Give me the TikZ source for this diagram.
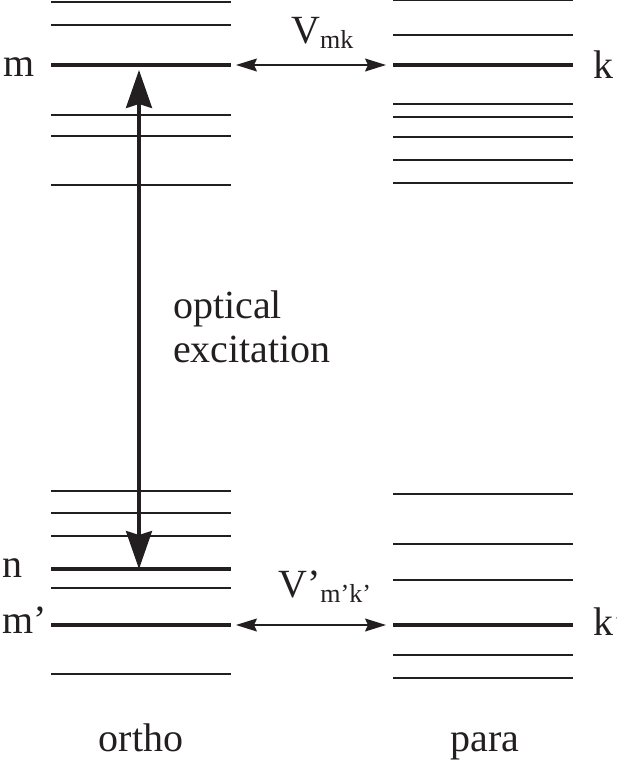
\documentclass[tikz,border=0pt]{standalone}
\usepackage{fontspec}
\setmainfont{Liberation Serif}
\usetikzlibrary{arrows.meta}

\definecolor{ink}{HTML}{231F20}
\newcommand{\lowsub}[1]{\raisebox{-5pt}{\fontsize{26}{26}\selectfont #1}}

\begin{document}
\begin{tikzpicture}[
        x=1pt, y=-1pt,
        level/.style={draw=ink, line width=1.8pt},
        mainlevel/.style={draw=ink, line width=3.8pt},
        coupling/.style={{Stealth[length=21pt, width=13pt, inset=3pt]}-{Stealth[length=21pt, width=13pt, inset=3pt]}, draw=ink, line width=1.3pt},
        excitation/.style={{Stealth[length=38pt, width=26pt, inset=4pt]}-{Stealth[length=38pt, width=26pt, inset=4pt]}, draw=ink, line width=3.2pt},
        label/.style={inner sep=0pt, text=ink, font=\fontsize{40}{44}\selectfont}
    ]
        \useasboundingbox (0,0) rectangle (617,763);

        % Ortho levels
        \draw[level] (51,2) -- (231,2);
        \draw[level] (51,25) -- (231,25);
        \draw[level] (51,115) -- (231,115);
        \draw[level] (51,136) -- (231,136);
        \draw[level] (51,185) -- (231,185);
        \draw[level] (51,491) -- (231,491);
        \draw[level] (51,513) -- (231,513);
        \draw[level] (51,536) -- (231,536);
        \draw[level] (51,588) -- (231,588);
        \draw[level] (51,674) -- (231,674);
        \draw[mainlevel] (51,65) -- (231,65);
        \draw[mainlevel] (51,569) -- (231,569);
        \draw[mainlevel] (51,625) -- (231,625);

        % Para levels
        \draw[level] (393,0) -- (573,0);
        \draw[level] (393,35) -- (573,35);
        \draw[level] (393,104) -- (573,104);
        \draw[level] (393,117) -- (573,117);
        \draw[level] (393,137) -- (573,137);
        \draw[level] (393,160) -- (573,160);
        \draw[level] (393,183) -- (573,183);
        \draw[level] (393,494) -- (573,494);
        \draw[level] (393,544) -- (573,544);
        \draw[level] (393,580) -- (573,580);
        \draw[level] (393,655) -- (573,655);
        \draw[level] (393,678) -- (573,678);
        \draw[mainlevel] (393,65) -- (573,65);
        \draw[mainlevel] (393,625) -- (573,625);

        % Level ends
        \coordinate (mR) at (231,65);
        \coordinate (kL) at (393,65);
        \coordinate (mpR) at (231,625);
        \coordinate (kpL) at (393,625);
        \coordinate (mup) at (139,65);
        \coordinate (ndown) at (139,569);

        % Couplings
        \draw[coupling, shorten <=5pt, shorten >=7pt] (mR) -- (kL);
        \draw[coupling, shorten <=5pt, shorten >=7pt] (mpR) -- (kpL);
        \draw[excitation, shorten <=5pt] (mup) -- (ndown);

        % Level labels
        \node[label, anchor=base west] (lblm) at (3,76) {m};
        \node[label, anchor=base west] (lblk) at (593,78) {k};
        \node[label, anchor=base west] (lbln) at (2,577) {n};
        \node[label, anchor=base west] (lblmp) at (2,633) {m’};
        \node[label, anchor=base west] (lblkp) at (593,635) {k’};

        % Coupling labels
        \node[label, anchor=base west] (vmk) at (291,43) {V\lowsub{mk}};
        \node[label, anchor=base west] (vmpkp) at (278,597) {V’\lowsub{m’k’}};

        % Excitation label
        \node[label, anchor=base west, align=left] (opt) at (173,362) {optical\\excitation};

        % Column names
        \node[label, anchor=base] (ortho) at (141,751) {ortho};
        \node[label, anchor=base] (para) at (485,751) {para};
    \end{tikzpicture}
\end{document}
